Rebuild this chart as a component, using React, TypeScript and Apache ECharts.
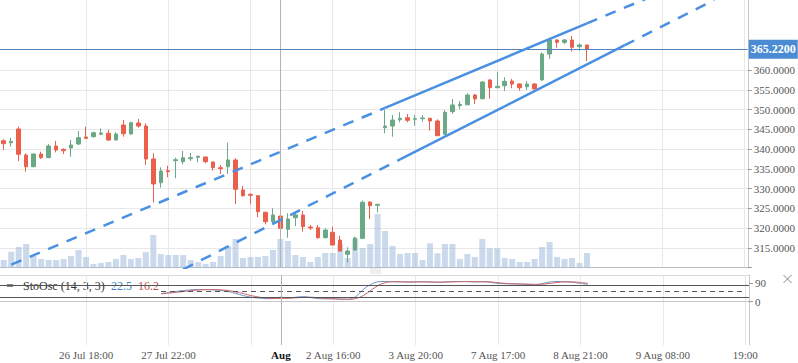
import React, { useEffect, useRef } from 'react';
import * as echarts from 'echarts';

const FONT = "'Liberation Serif', 'Times New Roman', serif";

const categoryCount = 100;
const categories = Array.from({ length: categoryCount }, (_, i) => `c${i}`);
const tickIndex = [11, 22, 37, 44, 55, 66, 77, 88, 99];
const tickText = ['26 Jul 18:00', '27 Jul 22:00', 'Aug', '2 Aug 16:00', '3 Aug 20:00', '7 Aug 17:00', '8 Aug 21:00', '9 Aug 08:00', '19:00'];
const boldTicks = ['Aug'];
const gridLineIndex = [11, 22, 33, 44, 55, 66, 77, 88, 99];
const crossIndex = 37;

// [open, close, low, high]
const ohlc: number[][] = [
  [342.12, 341.36, 339.77, 342.47],
  [341.61, 341.97, 340.6, 342.88],
  [345.08, 338.68, 336.98, 345.66],
  [338.5, 335.54, 334.28, 338.93],
  [335.54, 338.75, 335.4, 338.9],
  [338.75, 337.82, 337.49, 339.34],
  [337.82, 340.78, 337.7, 341.28],
  [340.78, 339.77, 339.18, 342.04],
  [339.94, 339.59, 338.75, 340.19],
  [340.27, 341.03, 338.07, 342.29],
  [341.28, 342.88, 341.03, 344.57],
  [343.05, 342.72, 342.6, 345.66],
  [343.13, 344.14, 342.88, 344.39],
  [343.74, 344.06, 343.56, 345.25],
  [343.99, 342.29, 342.04, 344.82],
  [342.29, 343.81, 342.2, 344.24],
  [346.09, 343.89, 343.13, 347.35],
  [343.81, 346.67, 343.7, 346.92],
  [346.59, 345.83, 345.41, 347.6],
  [345.83, 337.49, 335.97, 346.52],
  [337.49, 331.17, 326.44, 338.93],
  [331.5, 334.45, 330.23, 335.39],
  [334.53, 334.28, 332.86, 335.79],
  [337.06, 337.31, 332.61, 337.82],
  [336.81, 337.82, 336.15, 339.51],
  [337.56, 337.82, 336.98, 339.01],
  [337.92, 338.17, 336.65, 338.32],
  [338.0, 336.81, 336.4, 338.1],
  [336.73, 335.29, 334.53, 336.8],
  [335.29, 335.04, 333.7, 335.97],
  [335.54, 337.24, 333.7, 341.61],
  [337.24, 329.83, 326.11, 337.67],
  [329.65, 328.21, 327.95, 330.66],
  [328.56, 328.31, 326.03, 328.81],
  [328.21, 324.16, 322.75, 328.39],
  [324.01, 321.63, 320.97, 324.16],
  [321.63, 323.33, 320.97, 325.02],
  [323.07, 319.96, 316.17, 323.76],
  [319.71, 322.31, 317.58, 323.76],
  [322.64, 323.33, 320.54, 324.01],
  [323.33, 320.37, 319.1, 324.34],
  [320.29, 320.04, 319.53, 320.8],
  [320.12, 317.59, 317.33, 320.8],
  [317.59, 319.53, 317.43, 319.96],
  [318.95, 315.74, 315.66, 320.37],
  [316.99, 314.21, 314.13, 318.09],
  [313.39, 314.22, 311.26, 315.16],
  [314.48, 317.51, 314.22, 317.84],
  [317.43, 326.54, 317.26, 326.99],
  [326.61, 325.68, 322.31, 326.74],
  [325.78, 326.03, 323.96, 326.11],
  [345.4, 345.83, 343.99, 349.88],
  [345.83, 347.35, 343.13, 348.62],
  [347.43, 347.78, 346.77, 349.3],
  [347.93, 347.28, 346.77, 348.87],
  [347.53, 347.68, 345.91, 348.62],
  [347.68, 347.86, 346.92, 348.62],
  [347.78, 347.1, 344.65, 347.9],
  [347.1, 343.38, 343.3, 347.53],
  [343.74, 349.3, 343.56, 349.88],
  [349.45, 351.15, 348.95, 352.66],
  [350.97, 351.32, 350.13, 352.16],
  [351.22, 353.67, 351.1, 354.1],
  [353.67, 352.66, 351.4, 353.93],
  [352.74, 356.96, 352.59, 357.21],
  [357.47, 355.52, 352.74, 357.72],
  [355.52, 355.87, 355.4, 359.57],
  [356.03, 357.14, 354.69, 358.15],
  [357.21, 356.46, 355.37, 357.72],
  [356.46, 355.52, 354.76, 356.63],
  [355.77, 356.46, 354.94, 357.21],
  [356.46, 355.19, 355.12, 356.63],
  [357.47, 364.04, 357.3, 364.47],
  [364.04, 367.58, 362.78, 368.01],
  [367.58, 367.0, 365.64, 367.84],
  [367.0, 367.58, 366.5, 367.84],
  [367.58, 365.74, 364.63, 368.6],
  [365.89, 366.32, 364.88, 366.75],
  [366.32, 365.22, 362.27, 366.4],
];

const volume = [
  77, 160, 207, 237, 117, 87, 77, 77, 87, 117,
  177, 107, 37, 47, 57, 87, 127, 87, 97, 157,
  327, 137, 127, 127, 127, 77, 57, 37, 57, 117,
  217, 287, 97, 107, 107, 117, 177, 287, 267, 127,
  107, 57, 107, 147, 147, 237, 97, 287, 197, 237,
  537, 367, 217, 137, 147, 147, 77, 244, 144, 237,
  237, 87, 137, 107, 287, 194, 194, 97, 87, 57,
  57, 87, 207, 257, 107, 87, 97, 47, 147,
];
const volumeMax = 2677;

const priceMin = 310;
const priceMax = 377.7;
const priceTicks = [310, 315, 320, 325, 330, 335, 340, 345, 350, 355, 360];
const priceLabels = [315, 320, 325, 330, 335, 340, 345, 350, 355, 360];

// channel anchor points: [category index, price]
const upperChannel = [[1, 310.8], [51, 350.4], [78, 371.8], [86, 378.1]];
const lowerChannel = [[24, 309.6], [53, 337.4], [83, 366.2], [95, 377.7]];

const stochStart = 21;
const stochK = [
  40, 45, 50, 55, 58, 60, 60, 58, 55, 50,
  40, 30, 22, 18, 15, 15, 22.5, 18, 22, 25,
  20, 15, 14, 15, 12, 12, 25, 60, 85, 98,
  99, 98, 97, 96, 97, 98, 96, 95, 97, 99,
  99, 98, 97, 98, 95, 90, 88, 87, 86, 85,
  83, 90, 97, 99, 98, 95, 90, 86,
];
const stochD = [
  38, 42, 46, 50, 54, 57, 59, 59, 58, 55,
  48, 40, 30, 23, 18, 16, 16.2, 17, 19, 21,
  22, 19, 16, 14, 13, 12, 15, 30, 55, 80,
  94, 98, 98, 97, 97, 97, 97, 96, 96, 97,
  98, 99, 98, 98, 97, 93, 90, 88, 87, 86,
  85, 86, 90, 95, 97, 97, 94, 90,
];
const stochBands = [80, 20];
const stochMid = 50;
const stochTicks = [0, 90];
const stochMin = -212.3;
const stochMax = 130.9;

const UP = '#6aa886';
const DOWN = '#e9604c';
const CHANNEL = '#4a90e2';

function App() {
  const ref = useRef<HTMLDivElement>(null);

  useEffect(() => {
    if (!ref.current) return;
    const chart = echarts.init(ref.current, undefined, { renderer: 'svg' });

    const lastClose = ohlc[ohlc.length - 1][1];
    const kAtCross = stochK[crossIndex - stochStart];
    const dAtCross = stochD[crossIndex - stochStart];

    const seg = (pts: number[][], a: number, b: number) =>
      pts.slice(a, b + 1).map(([i, v]) => [categories[i], v]);

    const channelSeries = (data: any[], dashed: boolean) => ({
      type: 'line',
      xAxisIndex: 0,
      yAxisIndex: 0,
      data,
      showSymbol: false,
      symbol: 'none',
      silent: true,
      clip: true,
      z: 5,
      lineStyle: { color: CHANNEL, width: 2.5, type: dashed ? [11, 9] : 'solid' },
    });

    const splitLineCfg = {
      show: true,
      alignWithLabel: true,
      interval: (i: number) => gridLineIndex.includes(i),
      lineStyle: { color: '#e8e8e8', width: 1 },
    };

    const option: any = {
      animation: false,
      grid: [
        { left: 0, top: 0, width: 749, height: 267.7 },
        { left: 0, top: 275, width: 749, height: 70 },
      ],
      xAxis: [
        {
          type: 'category',
          gridIndex: 0,
          data: categories,
          boundaryGap: true,
          axisLine: { show: true, lineStyle: { color: '#bdbdbd' } },
          axisTick: { show: false },
          axisLabel: { show: false },
          splitLine: splitLineCfg,
        },
        {
          type: 'category',
          gridIndex: 1,
          data: categories,
          boundaryGap: true,
          axisLine: { show: true, lineStyle: { color: '#c8c8c8' } },
          axisTick: { show: false },
          axisLabel: {
            interval: (i: number) => tickIndex.includes(i),
            formatter: (_v: string, i: number) => {
              const t = tickText[tickIndex.indexOf(i)] ?? '';
              return boldTicks.includes(t) ? `{b|${t}}` : t;
            },
            margin: 4,
            fontSize: 11,
            color: '#555',
            fontFamily: FONT,
            rich: { b: { fontWeight: 'bold', color: '#111', fontSize: 11, fontFamily: FONT } },
          },
          splitLine: splitLineCfg,
        },
      ],
      yAxis: [
        {
          type: 'value',
          gridIndex: 0,
          position: 'right',
          min: priceMin,
          max: priceMax,
          axisLine: { show: true, lineStyle: { color: '#c8c8c8' } },
          axisTick: { show: true, length: 4, customValues: priceTicks, lineStyle: { color: '#999' } },
          axisLabel: {
            customValues: priceLabels,
            formatter: (v: number) => v.toFixed(4),
            margin: 6,
            fontSize: 11,
            color: '#555',
            fontFamily: FONT,
          },
          splitLine: { show: true, lineStyle: { color: '#e8e8e8', width: 1 } },
        },
        {
          type: 'value',
          gridIndex: 0,
          position: 'left',
          min: 0,
          max: volumeMax,
          show: false,
          splitLine: { show: false },
        },
        {
          type: 'value',
          gridIndex: 1,
          position: 'right',
          min: stochMin,
          max: stochMax,
          axisLine: { show: true, lineStyle: { color: '#c8c8c8' } },
          axisTick: { show: true, length: 4, customValues: stochTicks, lineStyle: { color: '#999' } },
          axisLabel: {
            customValues: stochTicks,
            margin: 6,
            fontSize: 11,
            color: '#555',
            fontFamily: FONT,
          },
          splitLine: { show: false },
        },
      ],
      series: [
        {
          type: 'bar',
          xAxisIndex: 0,
          yAxisIndex: 1,
          data: volume,
          barWidth: 6,
          silent: true,
          z: 2,
          itemStyle: { color: 'rgba(160,185,220,0.55)' },
        },
        {
          type: 'candlestick',
          xAxisIndex: 0,
          yAxisIndex: 0,
          data: ohlc,
          barWidth: 4,
          z: 3,
          silent: true,
          itemStyle: {
            color: UP,
            color0: DOWN,
            borderColor: UP,
            borderColor0: DOWN,
            borderWidth: 1,
          },
          markLine: {
            symbol: 'none',
            silent: true,
            animation: false,
            label: { show: false },
            data: [
              { xAxis: categories[crossIndex], lineStyle: { color: '#b3b3b3', width: 1, type: 'solid' } },
              {
                yAxis: lastClose,
                lineStyle: { color: '#5482bd', width: 1, type: 'solid' },
                label: {
                  show: true,
                  position: 'end',
                  distance: 1,
                  formatter: lastClose.toFixed(4),
                  backgroundColor: '#4a8bd4',
                  color: '#fff',
                  fontWeight: 'bold',
                  fontSize: 12,
                  fontFamily: FONT,
                  padding: [4, 2, 3, 2],
                },
              },
            ],
          },
        },
        channelSeries(seg(upperChannel, 0, 1), true),
        channelSeries(seg(upperChannel, 1, 2), false),
        channelSeries(seg(upperChannel, 2, 3), true),
        channelSeries(seg(lowerChannel, 0, 1), true),
        channelSeries(seg(lowerChannel, 1, 2), false),
        channelSeries(seg(lowerChannel, 2, 3), true),
        {
          type: 'line',
          xAxisIndex: 1,
          yAxisIndex: 2,
          data: stochK.map((v, i) => [categories[stochStart + i], v]),
          showSymbol: false,
          symbol: 'none',
          smooth: 0.3,
          silent: true,
          z: 4,
          lineStyle: { color: '#6f93cc', width: 1 },
          markLine: {
            symbol: 'none',
            silent: true,
            animation: false,
            label: { show: false },
            data: [
              ...stochBands.map((b) => ({ yAxis: b, lineStyle: { color: '#555', width: 1, type: 'solid' } })),
              [
                { coord: [categories[stochStart], stochMid], lineStyle: { color: '#555', width: 1, type: [5, 4] } },
                { coord: [categories[categoryCount - 1], stochMid] },
              ],
              { xAxis: categories[crossIndex], lineStyle: { color: '#b3b3b3', width: 1, type: 'solid' } },
            ],
          },
        },
        {
          type: 'line',
          xAxisIndex: 1,
          yAxisIndex: 2,
          data: stochD.map((v, i) => [categories[stochStart + i], v]),
          showSymbol: false,
          symbol: 'none',
          smooth: 0.3,
          silent: true,
          z: 4,
          lineStyle: { color: '#c96a66', width: 1 },
        },
      ],
      graphic: [
        { type: 'line', silent: true, shape: { x1: 0, y1: 275.5, x2: 749, y2: 275.5 }, style: { stroke: '#dadada', lineWidth: 1 } },
        { type: 'line', silent: true, shape: { x1: 370, y1: 269, x2: 381, y2: 269 }, style: { stroke: '#dedede', lineWidth: 1 } },
        { type: 'line', silent: true, shape: { x1: 370, y1: 271, x2: 381, y2: 271 }, style: { stroke: '#dedede', lineWidth: 1 } },
        { type: 'line', silent: true, shape: { x1: 370, y1: 273, x2: 381, y2: 273 }, style: { stroke: '#dedede', lineWidth: 1 } },
        { type: 'line', silent: true, shape: { x1: 783.5, y1: 275, x2: 791.5, y2: 283 }, style: { stroke: '#888', lineWidth: 1 } },
        { type: 'line', silent: true, shape: { x1: 791.5, y1: 275, x2: 783.5, y2: 283 }, style: { stroke: '#888', lineWidth: 1 } },
        { type: 'rect', silent: true, shape: { x: 7, y: 284.5, width: 6, height: 2 }, style: { fill: '#111' } },
        {
          type: 'text', silent: true, x: 23, y: 286,
          style: { text: 'StoOsc (14, 3, 3)', fill: '#333', fontSize: 12, fontFamily: FONT, verticalAlign: 'middle', align: 'left' },
        },
        {
          type: 'text', silent: true, x: 111, y: 286,
          style: { text: String(kAtCross), fill: '#4a7fc0', fontSize: 12, fontFamily: FONT, verticalAlign: 'middle', align: 'left' },
        },
        {
          type: 'text', silent: true, x: 138, y: 286,
          style: { text: String(dAtCross), fill: '#c0504d', fontSize: 12, fontFamily: FONT, verticalAlign: 'middle', align: 'left' },
        },
      ],
    };

    chart.setOption(option);
    return () => chart.dispose();
  }, []);

  return (
    <div
      ref={ref}
      style={{ position: 'fixed', left: 0, top: 0, width: 798, height: 363, background: '#fff' }}
    />
  );
}

export default App;
